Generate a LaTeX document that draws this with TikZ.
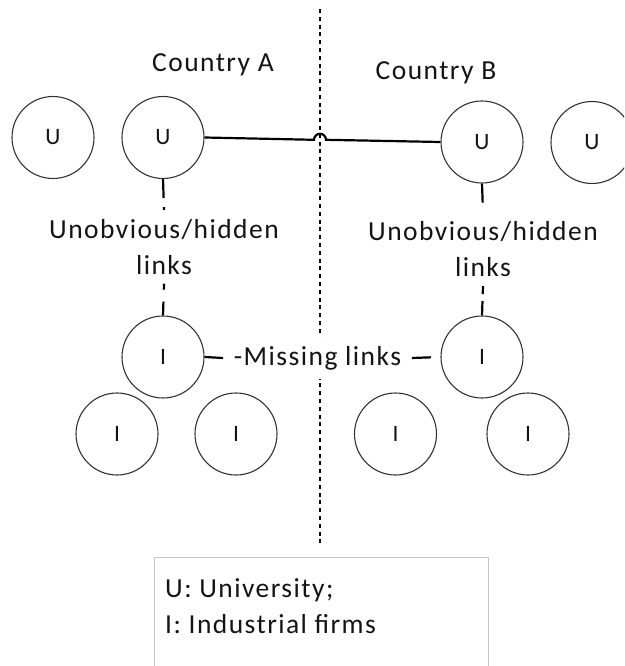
\documentclass[tikz,border=0pt]{standalone}
\usepackage{fontspec}
\setmainfont{Carlito}[LetterSpace=5.3]
\newcommand\txtf{\fontsize{27.5}{36}\selectfont}
\newcommand\lblf{\fontsize{23.5}{28}\selectfont}
\begin{document}
\begin{tikzpicture}[x=1pt,y=-1pt,
  org/.style={circle, draw=black!80, line width=1.1pt, minimum size=82pt, inner sep=0pt, font=\lblf, text=black!92},
  link/.style={line width=2.2pt, draw=black},
  lbl/.style={font=\txtf, align=center, inner sep=0pt, text=black!92},
  divider/.style={line width=2.3pt, dash pattern=on 4pt off 3.8pt, draw=black},
  legendbox/.style={draw=black!22, line width=1.2pt, minimum width=334pt, minimum height=140pt, inner sep=0pt, anchor=north west}
]
\useasboundingbox (0,0) rectangle (624,666);
\clip (0,0) rectangle (624,666);

% divider between the countries
\draw[divider] (320,9) -- (320,546);

% country labels
\node[lbl, anchor=base] (cA) at (213,72) {Country A};
\node[lbl, anchor=base] (cB) at (436,80) {Country B};

% universities
\node[org] (U1) at (53,137.5) {U};
\node[org] (U2) at (163,137.5) {U};
\node[org] (U3) at (482,142) {U};
\node[org] (U4) at (592,142.5) {U};

% industrial firms
\node[org] (I1) at (163,357) {I};
\node[org] (I2) at (482,357) {I};
\node[org] (I3) at (117,434) {I};
\node[org] (I4) at (236,434) {I};
\node[org] (I5) at (395.5,434) {I};
\node[org] (I6) at (528,434) {I};

% link between universities, hopping over the divider
\coordinate (bL) at (314,139.8);
\draw[link] (U2.east) -- (bL) arc[start angle=180, end angle=360, radius=6] -- (U3.west);

% hidden links
\node[lbl, inner xsep=0pt, inner ysep=9pt] (hA) at (164,246.8) {Unobvious/hidden\\links};
\node[lbl, inner xsep=0pt, inner ysep=9pt] (hB) at (483,249.3) {Unobvious/hidden\\links};
\draw[link, dash pattern=on 19pt off 9pt on 10pt] (U2.south) -- (hA.north);
\draw[link, dash pattern=on 6pt off 12pt on 40pt] (hA.south) -- (I1.north);
\draw[link, dash pattern=on 19pt off 30pt] (U3.south) -- (hB.north);
\draw[link, dash pattern=on 8pt off 7pt on 40pt] (hB.south) -- (I2.north);

% missing links
\node[lbl, fill=white, inner xsep=10.5pt, inner ysep=8pt, text height=20pt, text depth=6pt, anchor=base] (ml) at (317.5,365) {-Missing links};
\draw[link] (I1.east) -- (ml.west);
\draw[link, shorten >=9.5pt] (ml.east) -- (I2.west);

% legend
\node[legendbox] (legend) at (154,557) {};
\node[lbl, anchor=base west] (legU) at (165,597) {U: University;};
\node[lbl, anchor=base west] (legI) at (165,633) {I: Industrial firms};
\end{tikzpicture}
\end{document}
